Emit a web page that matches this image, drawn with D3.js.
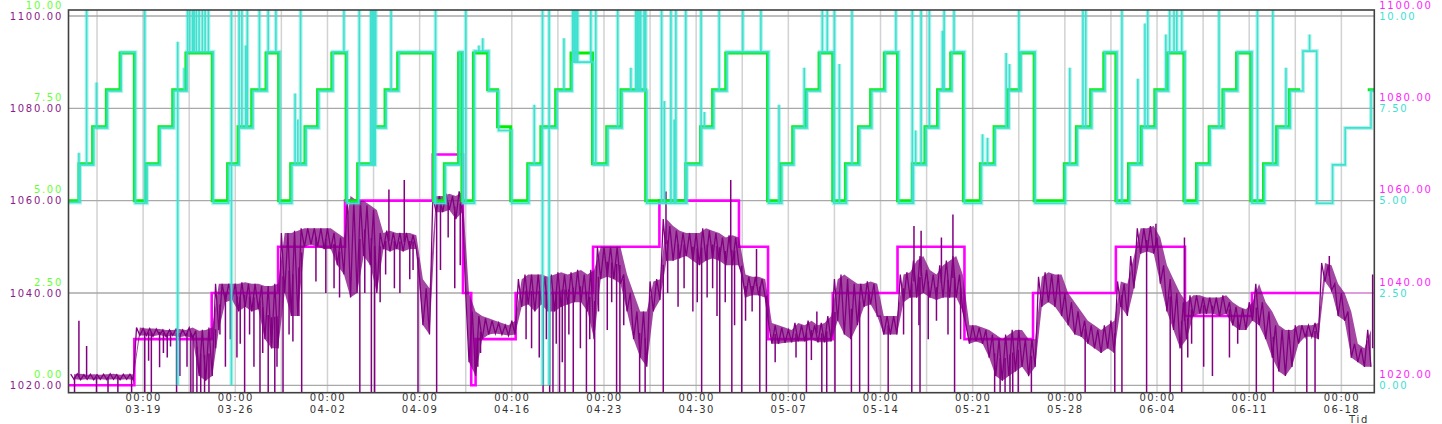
<!DOCTYPE html>
<html><head><meta charset="utf-8">
<script src="https://cdn.jsdelivr.net/npm/d3@7"></script>
<style>
html,body{margin:0;padding:0;background:#fff;overflow:hidden;}
svg text{font-family:"DejaVu Sans",Verdana,sans-serif;font-size:10px;letter-spacing:1.7px;}
</style></head><body>
<svg id="chart" width="1442" height="424"></svg>
<script>
const YEAR = 2018;
const xDomain = ["03-13 08", "06-20 12"];
const weekTicks = ["03-19","03-26","04-02","04-09","04-16","04-23","04-30","05-07","05-14","05-21","05-28","06-04","06-11","06-18"];
const greenTicks = [0, 2.5, 5, 7.5, 10];
const purpleTicks = [1020, 1040, 1060, 1080, 1100];
const magentaTicks = [1020, 1040, 1060, 1080, 1100];
const cyanTicks = [0, 2.5, 5, 7.5, 10];
const xAxisTitle = "Tid";

// green step series (left axis 0-10)
const greenSteps = [
 ["03-13 08",5],["03-14 03",6],["03-15 04",7],["03-16 05",8],["03-17 06",9],["03-18 08",5],
 ["03-19 05",6],["03-20 05",7],["03-21 06",8],["03-22 06",9],["03-24 06",5],
 ["03-25 10",6],["03-26 05",7],["03-27 06",8],["03-28 08",9],["03-29 07",5],
 ["03-30 05",6],["03-31 07",7],["04-01 06",8],["04-02 08",9],["04-03 10",5],
 ["04-04 07",6],["04-05 13",7],["04-06 09",8],["04-07 08",9],["04-10 01",5],
 ["04-10 21",6],["04-11 23",9],["04-12 05",5],["04-13 02",9],
 ["04-14 04",8],["04-14 22",7],["04-15 22",5],
 ["04-17 05",6],["04-18 05",7],["04-19 08",8],["04-20 12",9],
 ["04-22 03",6],["04-23 05",7],["04-24 07",8],["04-26 04",5],
 ["04-29 05",6],["04-30 08",7],["05-01 06",8],["05-02 06",9],["05-05 10",5],
 ["05-06 10",6],["05-07 08",7],["05-08 08",8],["05-09 08",9],["05-10 09",5],
 ["05-11 08",6],["05-12 08",7],["05-13 06",8],["05-14 07",9],["05-15 07",5],
 ["05-16 10",6],["05-17 09",7],["05-18 08",8],["05-19 08",9],["05-20 07",5],
 ["05-21 14",6],["05-22 15",7],["05-23 16",8],["05-24 14",9],["05-25 16",5],
 ["05-27 23",6],["05-28 21",7],["05-29 23",8],["05-30 23",9],["05-31 21",5],
 ["06-01 20",6],["06-02 19",7],["06-03 20",8],["06-04 19",9],["06-06 01",5],
 ["06-07 00",6],["06-07 23",7],["06-09 00",8],["06-10 01",9],["06-11 03",5],
 ["06-12 02",6],["06-13 02",7],["06-14 01",8],["06-14 21",null],["06-20 00",8],["06-20 12",8]
];

// cyan measured series (right axis 0-10)
const cyanSteps = [
 ["03-13 08",4.95],["03-14 05",5.97],["03-15 06",6.97],["03-16 07",7.97],["03-17 08",9.02],["03-18 10",4.93],
 ["03-19 07",5.97],["03-20 07",6.97],["03-21 08",7.97],["03-22 08",9.03],["03-24 08",4.93],
 ["03-25 12",5.97],["03-26 07",6.97],["03-27 08",7.97],["03-28 10",9.03],["03-29 09",4.93],
 ["03-30 07",5.97],["03-31 09",6.97],["04-01 08",7.97],["04-02 10",9.03],["04-03 12",4.93],
 ["04-04 09",5.97],["04-05 15",6.97],["04-06 11",7.97],["04-07 10",9.03],["04-10 03",4.93],
 ["04-10 23",5.97],["04-12 01",9.03],["04-12 07",4.93],["04-13 04",9.05],
 ["04-14 06",7.97],["04-15 00",6.9],["04-16 00",4.93],
 ["04-17 07",5.97],["04-18 07",6.97],["04-19 10",7.97],["04-20 14",8.75],
 ["04-22 05",5.97],["04-23 07",6.97],["04-24 09",7.97],["04-26 06",4.93],
 ["04-29 07",5.97],["04-30 10",6.97],["05-01 08",7.97],["05-02 08",9.03],["05-05 12",4.93],
 ["05-06 12",5.97],["05-07 10",6.97],["05-08 10",7.97],["05-09 10",9.03],["05-10 11",4.93],
 ["05-11 10",5.97],["05-12 10",6.97],["05-13 08",7.97],["05-14 09",9.03],["05-15 09",4.93],
 ["05-16 12",5.97],["05-17 11",6.97],["05-18 10",7.97],["05-19 10",9.03],["05-20 09",4.93],
 ["05-21 16",5.97],["05-22 17",6.97],["05-23 18",7.97],["05-24 16",9.03],["05-25 18",4.93],
 ["05-28 01",5.97],["05-28 23",6.97],["05-30 01",7.97],["05-31 01",9.03],["05-31 23",4.93],
 ["06-01 22",5.97],["06-02 21",6.97],["06-03 22",7.97],["06-04 21",9.03],["06-06 03",4.93],
 ["06-07 02",5.97],["06-08 01",6.97],["06-09 02",7.97],["06-10 03",9.03],["06-11 05",4.93],
 ["06-12 04",5.97],["06-13 04",6.97],["06-14 03",7.97],["06-15 02",9.05],["06-16 03",4.93],
 ["06-17 08",5.97],["06-18 07",6.97],["06-20 06",7.97],["06-20 12",7.97]
];
// cyan spikes: [time, peak(, low)]
const cyanSpikes = [
 ["03-14 03",6.3],["03-14 17",10.5],["03-15 11",8.2],["03-19 03",10.5],["03-21 15",9.3,0],["03-22 03",8.6],
 ["03-22 09",10.5],["03-22 13",10.5],["03-22 18",10.5],["03-22 21",10.5],["03-23 01",10.5],["03-23 06",10.5],
 ["03-23 12",10.5],["03-23 17",10.5],["03-23 23",10.5],["03-25 17",10.5,0],["03-26 07",10.5],["03-26 12",10.5],
 ["03-26 19",9.2],["03-26 22",10.5],["03-27 20",10.5],["03-28 12",10.5],["03-29 02",10.5],["03-30 13",7.9],
 ["03-30 18",7.2],["03-30 23",10.5],
 ["04-03 06",10.5],["04-04 10",10.5],["04-05 07",10.5],["04-05 10",10.5],["04-05 13",10.5],["04-05 16",10.5],
 ["04-06 20",10.5],["04-10 05",10.5],["04-12 12",10.5],["04-13 12",9.2],["04-13 19",9.4],["04-17 17",7.6],
 ["04-18 08",10.5,0],["04-18 20",10.5,0],["04-19 23",9.4],["04-20 15",10.5],["04-20 18",10.5],["04-20 21",10.5],
 ["04-21 00",10.5],["04-22 00",10.5],["04-22 09",10.5],["04-24 01",10.5],["04-25 01",8.6],["04-25 10",10.5],
 ["04-25 13",10.5],["04-25 16",10.5],["04-25 19",10.5],["04-26 01",10.5],["04-26 04",10.5],["04-27 09",10.5],
 ["04-27 14",7.7],["04-28 02",10.5],["04-28 08",7.2],["04-28 11",10.5],["04-29 05",10.5],["04-30 09",10.5],
 ["04-30 15",7.4],["05-01 18",10.5],["05-03 13",10.5],["05-04 22",10.5],["05-06 07",7.6],["05-08 05",8.6],
 ["05-09 14",10.5],["05-09 23",10.5],["05-10 12",10.5],["05-10 21",8.7],["05-11 20",10.5],["05-15 04",10.5],
 ["05-16 10",10.5],["05-16 16",6.9],["05-17 02",10.5],["05-17 17",10.5],["05-18 17",9.6],["05-18 20",10.5],
 ["05-19 14",10.5],["05-21 18",6.8],["05-22 03",6.7],["05-23 13",9.0],["05-23 19",8.7],["05-24 12",10.5],
 ["05-28 09",8.6],["05-29 09",10.5],["05-29 14",10.5],["06-01 08",10.5],["06-02 13",8.3],["06-03 02",9.8],
 ["06-03 07",10.5],["06-04 16",9.5],["06-04 23",10.5],["06-05 07",10.5],["06-05 12",10.5],["06-05 21",10.5],
 ["06-08 17",10.5],["06-11 15",10.5],["06-12 19",10.5],["06-13 19",8.6],["06-15 14",9.5]
];

// magenta step series (right axis 1020-1100)
const magentaSteps = [
 ["03-13 08",1020],["03-18 08",1030],["03-24 05",1040],["03-29 06",1050],["04-03 08",1060],
 ["04-10 00",1070],["04-12 07",1040],["04-12 22",1020],["04-13 06",1030],["04-16 07",1040],
 ["04-22 04",1050],["04-27 05",1060],["05-03 06",1050],["05-05 11",1030],["05-10 09",1040],
 ["05-15 07",1050],["05-20 09",1030],["05-25 14",1040],["05-31 21",1050],["06-06 03",1035],
 ["06-11 05",1040],["06-16 08",1040]
];
const magentaFaint = [["06-16 08",1040],["06-20 07",1040]];

// purple measured series (left axis 1020-1100): 12-hour bins, dense band low / high
const purpleBinStart = "03-13 12";
const purpleLo = [
 1021.3,1021.2,1021.3,1021.2,1021.3,1021.2,1021.3,1021.2,1021.3,1021.2,
 1030.8,1030.8,1030.6,1030.9,1030.5,1030.8,1030.4,1030.7,1030.2,1022,
 1021,1022,1032,1038,1038.5,1036,1037,1036,1036.5,1030,
 1028,1028,1040,1035,1035,1050,1050.5,1050,1049.5,1049.5,
 1046,1044,1039,1040,1048,1046,1040,1049.5,1049,1049.5,
 1049,1049.5,1049.5,1033,1031,1057.5,1057.5,1058,1056,1057.5,
 1025,1022,1030,1031,1031.2,1031,1030.8,1031,1037,1037.5,
 1036,1037.5,1036,1036,1037,1037.5,1038,1038,1036,1030,
 1043,1043.5,1043,1042,1036,1030,1026,1024,1036,1038.5,
 1047,1047,1047.5,1048,1047,1046,1047,1047.5,1047,1046,
 1046,1046,1039,1039.5,1039.5,1039,1029,1029,1029.2,1029.3,
 1029.5,1029.5,1030,1029.3,1029.3,1029.5,1034,1031,1030,1033,
 1037,1037.5,1035,1031,1031,1031,1038,1039,1039,1040,
 1039,1038.5,1039,1039,1039,1036,1029,1029.5,1029,1026,
 1022,1021,1022,1023,1024,1022,1024,1037,1038,1037,
 1035,1033,1031,1030.5,1029,1028,1027,1028,1027,1037,
 1035,1041,1048.5,1049,1048.5,1042,1036,1032,1028,1030,
 1035,1035.5,1035.5,1035.5,1035,1035.5,1033,1032,1032,1034,
 1033,1030,1026,1023,1022,1024,1029,1030.5,1030.5,1030,
 1042.5,1040.5,1035,1034,1026,1025,1024,1024
];
const purpleHi = [
 1022.4,1022.5,1022.3,1022.4,1022.3,1022.4,1022.5,1022.3,1022.4,1022.4,
 1032.5,1032.3,1032.3,1032.2,1032,1032,1032.2,1032,1032.5,1031.8,
 1032,1032.5,1042,1042,1042,1042,1042.3,1042,1042,1041.5,
 1041.5,1042,1053,1053,1053.5,1054,1054,1054,1054,1054,
 1053,1052,1061,1060,1060,1059,1058,1053,1053.5,1053,
 1053,1053,1052.5,1043,1041,1061,1061,1061.5,1061,1062,
 1040,1036,1035,1034.5,1034,1033.5,1033,1034,1043,1044,
 1044,1044,1043.5,1044,1044.5,1044,1044.5,1045,1044,1045,
 1050,1050,1050,1050,1044,1040,1036,1036,1042.5,1043,
 1056,1054.5,1053.5,1053,1053,1053,1054,1053.5,1053,1052,
 1052.5,1052,1044,1043.5,1043.5,1043,1033.5,1033,1032.5,1032,
 1033.5,1033,1034,1033,1033.5,1035,1043,1044,1043,1042,
 1042,1042.5,1042,1035,1035,1035,1044,1044.5,1047,1048,
 1045,1044,1046,1047,1048,1044,1033,1033,1032.5,1032,
 1031,1030,1031,1032,1032,1030,1030,1043.5,1044.5,1044,
 1044,1040,1038,1036,1034,1033,1032,1033,1034,1042.5,
 1042,1048,1054,1054,1054.5,1052,1046,1043,1040,1038,
 1039.5,1039.5,1039,1039,1039,1039.5,1038,1037,1036.5,1038,
 1042,1038,1036,1033,1032,1032,1033,1033,1033,1033.5,
 1046.5,1046,1042,1040,1036,1029,1028,1032
];
// purple excursions outside the dense band: [time, value]
const purpleSpikes = [
 ["03-13 19",1018],["03-14 03",1034],["03-14 17",1028.5],["03-15 11",1018],["03-16 08",1018],["03-17 02",1018],
 ["03-18 03",1018],["03-19 03",1018],["03-19 10",1025.3],["03-19 15",1018],["03-20 06",1023.9],["03-20 13",1027],
 ["03-20 20",1026],["03-21 02",1028.4],["03-21 13",1018],["03-21 19",1022],["03-22 08",1024],["03-22 15",1018],
 ["03-22 19",1018],["03-23 02",1018],["03-23 09",1018],["03-23 16",1018],["03-24 00",1018],
 ["03-24 12",1028],["03-24 20",1031],["03-25 06",1024],["03-25 15",1030],["03-26 03",1026],["03-26 09",1029],
 ["03-26 17",1018],["03-27 02",1031],["03-27 10",1024],["03-27 21",1018],["03-28 02",1027],["03-28 12",1018],
 ["03-28 18",1029],["03-29 00",1018],["03-29 04",1024],["03-29 15",1018],["03-30 02",1031],["03-30 09",1029.5],
 ["03-30 20",1035],["03-31 01",1018],["04-01 03",1042.5],["04-01 21",1040],["04-02 12",1041],["04-02 22",1039],
 ["04-04 11",1018],["04-04 20",1040],["04-05 08",1018],["04-05 14",1018],["04-06 00",1038],["04-06 10",1044],
 ["04-06 16",1062.4],["04-07 02",1041],["04-07 12",1040],["04-07 20",1064.5],["04-08 06",1043],["04-08 12",1045],
 ["04-08 21",1018],["04-10 07",1018],["04-10 14",1045],["04-11 04",1052],["04-11 16",1041],["04-12 02",1046],
 ["04-13 10",1024],["04-13 15",1027],["04-17 02",1030],["04-17 12",1028],["04-18 02",1026],["04-18 09",1018],
 ["04-18 15",1030],["04-18 21",1018],["04-19 03",1018],["04-19 09",1029],["04-19 15",1018],["04-19 20",1025],
 ["04-20 01",1018],["04-20 08",1031],["04-20 16",1018],["04-21 05",1028],["04-21 16",1018],["04-21 22",1030],
 ["04-22 07",1018],["04-22 14",1036],["04-23 06",1032],["04-23 14",1038],["04-23 23",1018],["04-24 05",1018],
 ["04-24 12",1033],["04-25 17",1018],["04-26 03",1018],["04-27 12",1018],["04-27 17",1062],["04-27 20",1040],
 ["04-28 15",1037],["04-29 02",1041],["04-29 18",1036],["04-30 02",1038],["04-30 10",1018],["04-30 20",1039],
 ["05-01 06",1041],["05-01 14",1035],["05-01 19",1018],["05-02 05",1038],["05-02 15",1064.5],["05-02 17",1018],
 ["05-02 22",1033],["05-03 11",1018],["05-03 18",1034],["05-04 06",1036],["05-04 14",1049.5],["05-04 20",1018],
 ["05-05 08",1018],["05-06 00",1025],["05-07 14",1026],["05-08 09",1018],["05-08 18",1025.5],["05-09 04",1036],
 ["05-09 13",1018],["05-09 22",1018],["05-10 13",1018],["05-11 19",1018],["05-12 10",1018],["05-13 02",1018],
 ["05-14 14",1018],["05-15 18",1031],["05-16 09",1018],["05-16 13",1054.5],["05-16 22",1033],["05-17 00",1018],
 ["05-17 02",1053.5],["05-17 15",1030],["05-18 06",1034],["05-18 15",1052],["05-19 03",1031],["05-19 12",1057],
 ["05-19 15",1018],["05-20 02",1030],["05-22 16",1018],["05-23 02",1018],["05-23 11",1018],["05-23 20",1018],
 ["05-24 01",1018],["05-24 11",1018],["05-25 11",1018],["05-29 13",1018],["05-31 19",1018],["06-01 08",1018],
 ["06-03 05",1018],["06-03 22",1055],["06-05 00",1018],["06-05 21",1018],["06-06 02",1052],["06-06 08",1026],
 ["06-06 15",1029],["06-07 13",1024],["06-08 05",1022],["06-09 12",1026],["06-10 03",1029],["06-11 13",1018],
 ["06-12 20",1018],["06-15 09",1018],["06-16 00",1018],["06-17 02",1048],["06-20 09",1044]
];

// ---------- drawing ----------
const pH = d3.timeParse("%Y-%m-%d %H");
const pD = d3.timeParse("%Y-%m-%d");
const T = s => pH(`${YEAR}-${s}`);

const L = 68.5, R = 1374.3, TOP = 10, BOT = 392.7;
const x = d3.scaleTime().domain(xDomain.map(T)).range([L, R]);
const yP = d3.scaleLinear().domain([1020, 1100]).range([385.3, 16]);
const yG = d3.scaleLinear().domain([0, 10]).range([385.3, 16]);

const svg = d3.select("#chart");
svg.append("defs").append("clipPath").attr("id","clip")
  .append("rect").attr("x",L).attr("y",TOP).attr("width",R-L).attr("height",BOT-TOP);

// grid
const weekDates = weekTicks.map(s => pD(`${YEAR}-${s}`));
const gridDates = [];
weekDates.forEach(d => { gridDates.push(d3.timeHour.offset(d,-84)); gridDates.push(d); });
const gGrid = svg.append("g");
gGrid.selectAll("line.v").data(gridDates.filter(d => x(d) > L && x(d) < R)).join("line")
  .attr("x1", d => x(d)).attr("x2", d => x(d)).attr("y1", TOP).attr("y2", BOT)
  .attr("stroke", "#d2d2d2").attr("stroke-width", 1.5);
gGrid.selectAll("line.h").data(purpleTicks).join("line")
  .attr("x1", L).attr("x2", R).attr("y1", d => yP(d)).attr("y2", d => yP(d))
  .attr("stroke", "#a9a9a9").attr("stroke-width", 1.3);

// step series builder
function stepPts(steps, spikes) {
  const pts = [];
  let prev = null;
  steps.forEach(([t, v]) => {
    const tt = T(t);
    if (v == null) { pts.push({t: tt, v: prev}); pts.push({t: tt, v: null}); }
    else pts.push({t: tt, v});
    prev = v;
  });
  const base = t => { let b = null; for (const s of steps) { if (T(s[0]) <= t) b = s[1]; else break; } return b; };
  (spikes || []).forEach(s => {
    const tt = T(s[0]); const b = base(tt); if (b == null) return;
    pts.push({t: tt, v: b}); s.slice(1).forEach(v => pts.push({t: tt, v})); pts.push({t: tt, v: b});
  });
  return pts.map((p, i) => ({...p, i})).sort((a, b) => (a.t - b.t) || (a.i - b.i));
}
const plot = svg.append("g").attr("clip-path", "url(#clip)");
const stepLine = yS => d3.line().defined(d => d.v != null).x(d => x(d.t)).y(d => yS(d.v)).curve(d3.curveStepAfter);

// magenta
plot.append("path").datum(stepPts(magentaSteps.concat([magentaFaint[0]])))
  .attr("d", stepLine(yP)).attr("fill","none").attr("stroke","#ff00ff").attr("stroke-width",2.6);
plot.append("path").datum(stepPts(magentaFaint))
  .attr("d", stepLine(yP)).attr("fill","none").attr("stroke","#ff7bff").attr("stroke-width",1);

// purple: dense band + jagged min/max trace + excursions
const b0 = T(purpleBinStart);
const bins = purpleLo.map((lo, k) => ({t: d3.timeHour.offset(b0, 12 * k + 6), lo, hi: purpleHi[k], t0: d3.timeHour.offset(b0, 12 * k)}));
const gP = plot.append("g");
gP.append("path").datum(bins)
  .attr("d", d3.area().x(d => x(d.t)).y0(d => yP(d.lo)).y1(d => yP(d.hi)))
  .attr("fill", "#800080").attr("fill-opacity", 0.72);
const zig = [];
bins.forEach(b => { zig.push({t: b.t0, v: b.hi}); zig.push({t: b.t, v: b.lo}); });
gP.append("path").datum(zig)
  .attr("d", d3.line().x(d => x(d.t)).y(d => yP(d.v)))
  .attr("fill","none").attr("stroke","#800080").attr("stroke-width",1.3);
const bandAt = (t, key) => {
  const i = d3.bisector(d => d.t).right(bins, t);
  const a = bins[Math.max(0, i - 1)], b = bins[Math.min(bins.length - 1, i)];
  if (a === b) return a[key];
  const f = (t - a.t) / (b.t - a.t);
  return a[key] + (b[key] - a[key]) * Math.max(0, Math.min(1, f));
};
gP.selectAll("line").data(purpleSpikes).join("line")
  .attr("x1", d => x(T(d[0]))).attr("x2", d => x(T(d[0])))
  .attr("y1", d => { const t = T(d[0]); return yP((bandAt(t, "lo") + bandAt(t, "hi")) / 2); })
  .attr("y2", d => yP(d[1]))
  .attr("stroke", "#800080").attr("stroke-width", 1.5);

// green
plot.append("path").datum(stepPts(greenSteps))
  .attr("d", stepLine(yG)).attr("fill","none").attr("stroke","#00ee00").attr("stroke-width",3);

// cyan
const cyanPts = stepPts(cyanSteps, cyanSpikes);
plot.append("path").datum(cyanPts)
  .attr("d", stepLine(yG)).attr("fill","none").attr("stroke","#40e0d0").attr("stroke-width",4).attr("stroke-opacity",0.4);
plot.append("path").datum(cyanPts)
  .attr("d", stepLine(yG)).attr("fill","none").attr("stroke","#40e0d0").attr("stroke-width",1.6);

// frame
svg.append("rect").attr("x",L).attr("y",TOP).attr("width",R-L).attr("height",BOT-TOP)
  .attr("fill","none").attr("stroke","#404040").attr("stroke-width",1.6);

// axes
function styleAxis(g, color) {
  g.select(".domain").remove();
  g.selectAll(".tick line").remove();
  g.selectAll("text").attr("fill", color).attr("font-family", null).attr("font-size", null);
}
const fmt = d3.format(".2f");
svg.append("g").attr("transform", `translate(${L - 4},-11)`)
  .call(d3.axisLeft(yG).tickValues(greenTicks).tickFormat(fmt).tickSize(0).tickPadding(1.5))
  .call(g => styleAxis(g, "#66ff33"));
svg.append("g").attr("transform", `translate(${L - 4},0)`)
  .call(d3.axisLeft(yP).tickValues(purpleTicks).tickFormat(fmt).tickSize(0).tickPadding(1.5))
  .call(g => styleAxis(g, "#8b1a8b"));
svg.append("g").attr("transform", `translate(${R + 2},-11)`)
  .call(d3.axisRight(yP).tickValues(magentaTicks).tickFormat(fmt).tickSize(0).tickPadding(3))
  .call(g => styleAxis(g, "#ff22ff"));
svg.append("g").attr("transform", `translate(${R + 2},0)`)
  .call(d3.axisRight(yG).tickValues(cyanTicks).tickFormat(fmt).tickSize(0).tickPadding(3))
  .call(g => styleAxis(g, "#40e0d0"));

const fmtDate = d3.timeFormat("%m-%d");
const xg = svg.append("g").attr("transform", `translate(0,${BOT})`)
  .call(d3.axisBottom(x).tickValues(weekDates).tickFormat(d3.timeFormat("%H:%M")).tickSize(0).tickPadding(0));
styleAxis(xg, "#333");
xg.selectAll(".tick text").attr("y", 0).attr("dy", null).style("letter-spacing", "1.5px").each(function(d) {
  const t = d3.select(this); const s = t.text(); t.text(null);
  t.append("tspan").attr("x", 0).attr("y", 8).text(s);
  t.append("tspan").attr("x", 0).attr("y", 20).text(fmtDate(d));
});
svg.append("text").attr("x", 1359).attr("y", 422.5).attr("text-anchor","middle").attr("fill","#333").text(xAxisTitle);
</script>
</body></html>
